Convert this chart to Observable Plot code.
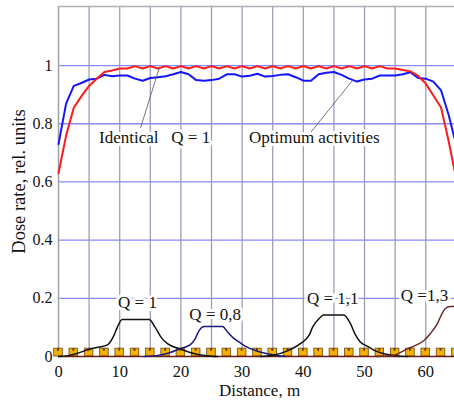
<!DOCTYPE html>
<html><head><meta charset="utf-8">
<script src="https://cdn.jsdelivr.net/npm/d3@7"></script>
<script src="https://cdn.jsdelivr.net/npm/@observablehq/plot@0.6"></script>
<style>body{margin:0;background:#fff}</style>
</head><body><div id="chart"></div>
<script>
// Identical activities (red)
const identicalX = [0,1.25,2.5,3.75,5,6.25,7.5,8.75,10,11.25,12.5,13.75,15,16.25,17.5,18.75,20,21.25,22.5,23.75,25,26.25,27.5,28.75,30,31.25,32.5,33.75,35,36.25,37.5,38.75,40,41.25,42.5,43.75,45,46.25,47.5,48.75,50,51.25,52.5,53.75,55,56.25,57.5,58.75,60,61.25,62.5,63.75,64.7];
const identicalY = [0.63,0.76,0.855,0.895,0.93,0.955,0.978,0.983,0.99,0.99,0.998,0.99,0.998,0.99,0.998,0.99,0.998,0.99,0.998,0.99,0.998,0.99,0.998,0.99,0.998,0.99,0.998,0.99,0.998,0.99,0.998,0.99,0.998,0.99,0.998,0.99,0.998,0.99,0.998,0.99,0.998,0.99,0.998,0.99,0.99,0.985,0.98,0.965,0.938,0.897,0.856,0.74,0.64];
// Optimum activities (blue)
const optimumX = identicalX;
const optimumY = [0.73,0.87,0.93,0.94,0.952,0.955,0.968,0.963,0.966,0.966,0.955,0.948,0.957,0.96,0.963,0.97,0.978,0.97,0.95,0.948,0.95,0.955,0.97,0.97,0.962,0.965,0.972,0.962,0.964,0.968,0.97,0.96,0.948,0.948,0.97,0.975,0.978,0.968,0.955,0.945,0.952,0.955,0.966,0.966,0.966,0.97,0.977,0.957,0.955,0.945,0.915,0.83,0.75];
// Single-source contributions
const q1X = [0,1.5,3,5,6.5,8,9,9.6,10.4,14.8,15.8,16.8,17.8,19.9,21.5,23,25,26];
const q1Y = [0,0.003,0.01,0.025,0.032,0.04,0.07,0.1,0.127,0.127,0.1,0.065,0.044,0.026,0.014,0.006,0.001,0];
const q08X = [14,16,18,20,21.5,22.3,23,23.8,26.8,27.6,28.5,29.5,30.5,32.5,35,37];
const q08Y = [0,0.003,0.012,0.028,0.04,0.06,0.09,0.103,0.103,0.085,0.065,0.05,0.036,0.018,0.006,0];
const q11X = [33,35,37.5,39.5,41,41.5,42.8,43.3,46.6,47.7,48.5,49.3,50.5,51.5,53,55,57];
const q11Y = [0,0.004,0.02,0.044,0.075,0.1,0.135,0.143,0.143,0.113,0.075,0.05,0.035,0.022,0.01,0.003,0];
const q13X = [52,54.7,57,58.5,59.7,60.8,61.9,62.6,63.2,64,64.7];
const q13Y = [0,0.004,0.026,0.04,0.055,0.08,0.113,0.145,0.165,0.172,0.172];
// Source positions
const sourceX = [0,2.5,5,7.5,10,12.5,15,17.5,20,22.5,25,27.5,30,32.5,35,37.5,40,42.5,45,47.5,50,52.5,55,57.5,60,62.5,65];
// Labels
const labelText = ["Q = 1","Q = 0,8","Q = 1,1","Q =1,3","Identical\u00a0\u00a0\u00a0Q = 1","Optimum activities"];
const labelX = [12.9,25.6,44.8,59.8,15.7,41.8];
const labelY = [0.187,0.144,0.2,0.208,0.753,0.753];
const leaderX1 = [13.4,41.2], leaderY1 = [0.785,0.77], leaderX2 = [16.5,48.0], leaderY2 = [0.995,0.948];
const xTicks = [0,10,20,30,40,50,60];
const yTicks = [0,0.2,0.4,0.6,0.8,1];
const xGrid = [5,10,15,20,25,30,35,40,45,50,55,60];
const yGrid = [0.2,0.4,0.6,0.8,1];
const xTitle = "Distance, m";
const yTitle = "Dose rate, rel. units";

const zip = (xs, ys) => xs.map((x, i) => ({x, y: ys[i]}));
const labels = labelText.map((t, i) => ({t, x: labelX[i], y: labelY[i]}));
const leaders = leaderX1.map((x, i) => ({x1: x, y1: leaderY1[i], x2: leaderX2[i], y2: leaderY2[i]}));

const chart = Plot.plot({
  width: 454, height: 403,
  marginLeft: 58, marginRight: 0, marginTop: 6, marginBottom: 47,
  style: {fontFamily: "Liberation Serif", fontSize: "16px", background: "#fff", color: "#111"},
  x: {domain: [0, 64.7]},
  y: {domain: [0, 1.203]},
  marks: [
    Plot.ruleX(xGrid, {stroke: "#9d9dbb", strokeWidth: 1.3}),
    Plot.ruleY(yGrid, {stroke: "#8a8aff", strokeWidth: 1.3}),
    Plot.ruleX([0], {stroke: "#a0a0a8", strokeWidth: 1.5}),
    Plot.ruleY([1.203], {stroke: "#b0b0b8", strokeWidth: 1.5}),
    Plot.rect(sourceX, {x1: d => d - 0.7, x2: d => d + 0.7, y1: 0, y2: 0.027, fill: "#f5b000", stroke: "#6a4a10", strokeWidth: 0.8}),
    Plot.rect(sourceX, {x1: d => d - 0.15, x2: d => d + 0.15, y1: 0.018, y2: 0.027, fill: "#5a3a10"}),
    Plot.ruleY([0], {stroke: "#6b1a1a", strokeWidth: 1.5}),
    Plot.line(zip(q1X, q1Y), {x: "x", y: "y", stroke: "#111", strokeWidth: 1.5, curve: "monotone-x"}),
    Plot.line(zip(q08X, q08Y), {x: "x", y: "y", stroke: "#1a1a80", strokeWidth: 1.5, curve: "monotone-x"}),
    Plot.line(zip(q11X, q11Y), {x: "x", y: "y", stroke: "#111", strokeWidth: 1.5, curve: "monotone-x"}),
    Plot.line(zip(q13X, q13Y), {x: "x", y: "y", stroke: "#6b2a2a", strokeWidth: 1.5, curve: "monotone-x"}),
    Plot.line(zip(optimumX, optimumY), {x: "x", y: "y", stroke: "#1414ff", strokeWidth: 2}),
    Plot.line(zip(identicalX, identicalY), {x: "x", y: "y", stroke: "#ff1a1a", strokeWidth: 2}),
    Plot.link(leaders, {x1: "x1", y1: "y1", x2: "x2", y2: "y2", stroke: "#555", strokeWidth: 0.8}),
    Plot.text(labels, {x: "x", y: "y", text: "t", fontSize: 17, fill: "#111", stroke: "white", strokeWidth: 6, paintOrder: "stroke"}),
    Plot.axisX(xTicks, {tickSize: 0, tickPadding: 9, fontSize: 16.5, label: null}),
    Plot.axisY(yTicks, {tickSize: 0, tickPadding: 6, fontSize: 16, tickFormat: d => String(d), label: null}),
    Plot.text([xTitle], {frameAnchor: "bottom", dx: 3, dy: 39, fontSize: 17, fill: "#111", text: d => d}),
    Plot.text([yTitle], {frameAnchor: "left", textAnchor: "middle", rotate: -90, dx: -39, dy: 0, fontSize: 18.5, fill: "#111", text: d => d})
  ]
});
document.getElementById("chart").appendChild(chart);
</script></body></html>
